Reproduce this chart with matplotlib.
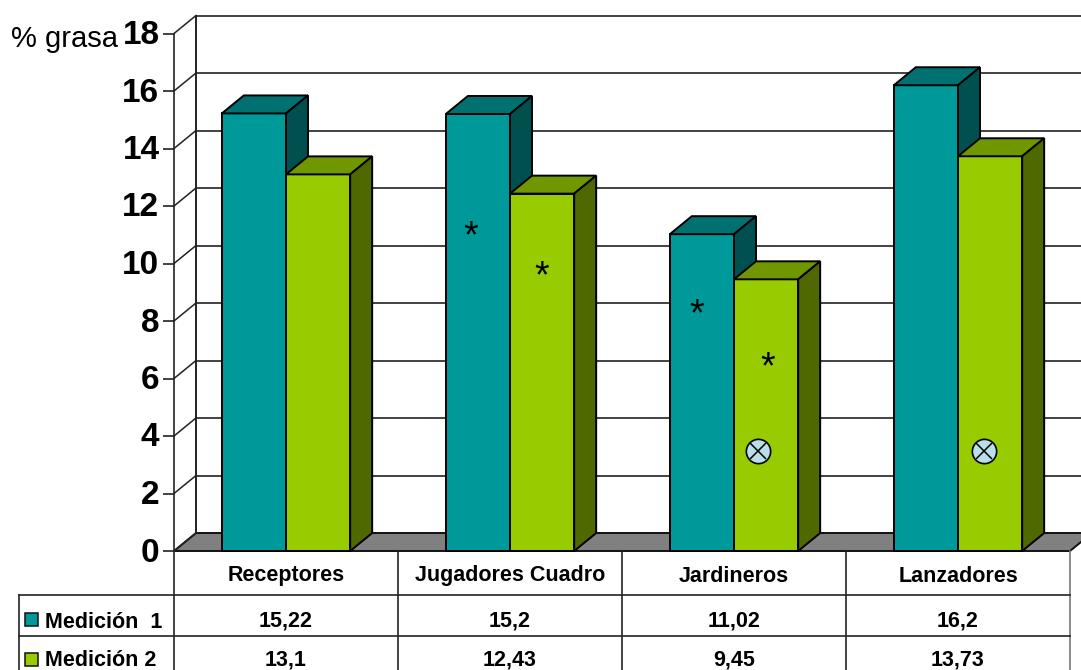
#!/usr/bin/env python3

import numpy as np
import matplotlib.pyplot as plt
from matplotlib.patches import Polygon, Rectangle
from matplotlib.transforms import ScaledTranslation

categories = ["Receptores", "Jugadores Cuadro", "Jardineros", "Lanzadores"]
series_names = ["Medición  1", "Medición 2"]
medicion_1 = [15.22, 15.2, 11.02, 16.2]
medicion_2 = [13.1, 12.43, 9.45, 13.73]
labels_1 = ["15,22", "15,2", "11,02", "16,2"]
labels_2 = ["13,1", "12,43", "9,45", "13,73"]
yticks = list(range(0, 20, 2))

# significance marks, in category / % units
star_x = [1.326, 1.64, 2.335, 2.652]
star_y = [10.9, 9.53, 8.2, 6.36]
cross_x = [2.605, 3.615]
cross_y = [3.47, 3.47]

W, H = 1081, 670
X0, X1 = 174, 1070
Y0, Y18 = 551, 33.5
DX = 22 / 224          # depth of the 3d box, category units
DY = 18 / 28.75        # depth of the 3d box, % units
BAR_W = 0.2865

TEAL = ("#009999", "#007070", "#005050")
GREEN = ("#99CC00", "#709600", "#4F6900")
LINE = "#222222"
EDGE = 1.4

plt.rcParams["font.family"] = ["Liberation Sans", "DejaVu Sans"]

fig = plt.figure(figsize=(W / 100, H / 100), dpi=100)
ax = fig.add_axes([X0 / W, 1 - Y0 / H, (X1 - X0) / W, (Y0 - Y18) / H])
ax.set_xlim(0, 4)
ax.set_ylim(0, 18)
ax.patch.set_visible(False)
for side in ["top", "right", "bottom"]:
    ax.spines[side].set_visible(False)
ax.spines["left"].set_color(LINE)
ax.spines["left"].set_linewidth(1.2)
ax.set_xticks([])
ax.set_yticks(yticks)
ax.tick_params(axis="y", length=8, width=1.2, color=LINE, pad=2.5)
nudge = ScaledTranslation(0, -2 / 100, fig.dpi_scale_trans)
for t in ax.get_yticklabels():
    t.set_fontsize(24)
    t.set_fontweight("bold")
    t.set_verticalalignment("center")
    t.set_transform(t.get_transform() + nudge)

# floor and back wall
ax.add_patch(Polygon([(0, 0), (4, 0), (4 + DX, DY), (DX, DY)], closed=True,
                     facecolor="#808080", edgecolor="#111111", lw=EDGE,
                     clip_on=False, zorder=1))
ax.plot([DX, DX], [DY, 18 + DY], color=LINE, lw=1.4, clip_on=False, zorder=1)
for v in yticks:
    ax.plot([0, DX], [v, v + DY], color=LINE, lw=1.1, clip_on=False, zorder=1)
    if v > 0:
        ax.plot([DX, 4 + DX], [v + DY, v + DY], color=LINE, lw=1.2,
                clip_on=False, zorder=1)


def box(x, v, colours, z):
    front, top, side = colours
    ax.bar(x, v, BAR_W, align="edge", color=front, edgecolor="black",
           linewidth=EDGE, clip_on=False, zorder=z)
    ax.add_patch(Polygon([(x, v), (x + BAR_W, v), (x + BAR_W + DX, v + DY), (x + DX, v + DY)],
                         closed=True, facecolor=top, edgecolor="black", lw=EDGE,
                         clip_on=False, zorder=z))
    ax.add_patch(Polygon([(x + BAR_W, 0), (x + BAR_W + DX, DY), (x + BAR_W + DX, v + DY), (x + BAR_W, v)],
                         closed=True, facecolor=side, edgecolor="black", lw=EDGE,
                         clip_on=False, zorder=z))


for i in range(len(categories)):
    c = i + 0.5
    box(c - BAR_W, medicion_1[i], TEAL, 3 + i * 2)
    box(c, medicion_2[i], GREEN, 4 + i * 2)

for x, y in zip(star_x, star_y):
    ax.text(x, y, "*", fontsize=27, ha="center", va="center", zorder=20)
ax.plot(cross_x, cross_y, ls="none", marker="o", ms=17.5, mfc="#B8E0E8", mec="black",
        mew=1.2, zorder=20, clip_on=False)
ax.plot(cross_x, cross_y, ls="none", marker="x", ms=11.5, mec="black", mew=1.1,
        zorder=21, clip_on=False)

# data table under the plot, laid out in pixels
tab = fig.add_axes([0, 0, 1, 1])
tab.set_xlim(0, W)
tab.set_ylim(H, 0)
tab.axis("off")
tab.patch.set_visible(False)

col_x = np.linspace(X0, X1, len(categories) + 1)
tab.plot([X0, X0], [Y0, H], color=LINE, lw=1.2)
for x in col_x[1:]:
    tab.plot([x, x], [Y0, H], color="#777777" if x == X1 else LINE, lw=1.2)
tab.plot([18.5, 18.5], [595, H], color=LINE, lw=1.2)
tab.plot([18.5, X1], [595, 595], color=LINE, lw=1.2)
tab.plot([18.5, X1], [636, 636], color=LINE, lw=1.2)

for i, name in enumerate(categories):
    c = (col_x[i] + col_x[i + 1]) / 2
    tab.text(c, 581.5, name, fontsize=15.5, fontweight="bold", ha="center", va="baseline")
    tab.text(c, 626.5, labels_1[i], fontsize=15.5, fontweight="bold", ha="center", va="baseline")
    tab.text(c, 665.5, labels_2[i], fontsize=15.5, fontweight="bold", ha="center", va="baseline")

for name, y, base, colour in zip(series_names, [619, 659], [627.5, 665.5], [TEAL[0], GREEN[0]]):
    tab.add_patch(Rectangle((25, y - 6.5), 13, 13, facecolor=colour, edgecolor="#111111", lw=1.1))
    tab.text(45, base, name, fontsize=15.5, fontweight="bold", ha="left", va="baseline")

tab.text(11, 47, "% grasa", fontsize=21, ha="left", va="baseline")

fig.savefig("out.png", dpi=100)
